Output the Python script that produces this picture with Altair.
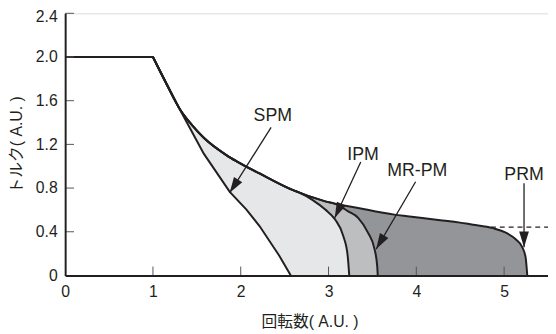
import math
import altair as alt
import pandas as pd

# ---- data ----
prm_x = [1.0, 1.15, 1.316, 1.45, 1.579, 1.84, 1.953, 2.214, 2.589, 2.963, 3.337, 3.749, 3.898, 4.273, 4.646, 4.871, 5.02, 5.132, 5.208, 5.245, 5.264]
prm_y = [2.0, 1.76, 1.51, 1.372, 1.26, 1.10, 1.045, 0.934, 0.783, 0.678, 0.618, 0.557, 0.542, 0.506, 0.465, 0.433, 0.392, 0.331, 0.257, 0.166, 0.0]

mrpm_x = [1.0, 1.15, 1.316, 1.45, 1.579, 1.84, 1.953, 2.214, 2.589, 2.963, 3.075, 3.224, 3.337, 3.449, 3.524, 3.554, 3.561]
mrpm_y = [2.0, 1.76, 1.51, 1.372, 1.26, 1.10, 1.045, 0.934, 0.783, 0.678, 0.655, 0.587, 0.527, 0.392, 0.241, 0.09, 0.0]

ipm_x = [1.0, 1.15, 1.316, 1.45, 1.579, 1.84, 1.953, 2.214, 2.589, 2.66, 2.82, 2.963, 3.075, 3.168, 3.218, 3.236]
ipm_y = [2.0, 1.76, 1.51, 1.372, 1.26, 1.10, 1.045, 0.934, 0.783, 0.76, 0.69, 0.603, 0.512, 0.361, 0.181, 0.0]

spm_x = [0.0, 1.0, 1.316, 1.579, 1.875, 2.065, 2.214, 2.439, 2.570]
spm_y = [2.0, 2.0, 1.506, 1.115, 0.765, 0.603, 0.452, 0.181, 0.0]

labels = ["SPM", "IPM", "MR-PM", "PRM"]
label_x = [2.365, 3.393, 4.010, 5.227]
label_y = [1.461, 1.099, 0.958, 0.919]
arrow_x0 = [2.346, 3.367, 3.992, 5.227]
arrow_y0 = [1.355, 1.039, 0.858, 0.844]
arrow_x1 = [1.874, 3.070, 3.543, 5.227]
arrow_y1 = [0.756, 0.526, 0.241, 0.257]

dash_x = [4.85, 5.5]
dash_y = [0.443, 0.443]

x_ticks = [1, 2, 3, 4, 5]
y_ticks = [0.4, 0.8, 1.2, 1.6, 2.0, 2.4]

# ---- layout ----
W, H = 490, 266
XMAX, YMAX = 5.5, 2.4
INK = "#231f20"
FONT = "Liberation Sans, Arial, Noto Sans CJK JP"

xs = alt.Scale(domain=[0, XMAX], nice=False)
ys = alt.Scale(domain=[0, YMAX], nice=False)

def curve_df(xv, yv):
    return pd.DataFrame({"x": xv, "y": yv})

def area(xv, yv, color, interp):
    return alt.Chart(curve_df(xv, yv)).mark_area(
        color=color, opacity=1, interpolate=interp
    ).encode(
        x=alt.X("x:Q", scale=xs),
        y=alt.Y("y:Q", scale=ys),
    )

def line(xv, yv, interp):
    return alt.Chart(curve_df(xv, yv)).mark_line(
        color=INK, strokeWidth=2, interpolate=interp
    ).encode(
        x=alt.X("x:Q", scale=xs),
        y=alt.Y("y:Q", scale=ys),
    )

sx, sy = W / XMAX, H / YMAX
angles = []
for a, b, c, d in zip(arrow_x0, arrow_y0, arrow_x1, arrow_y1):
    dx = (c - a) * sx
    dy = -(d - b) * sy
    angles.append(math.degrees(math.atan2(-dx, dy)) % 360)

arr = pd.DataFrame({
    "label": labels, "lx": label_x, "ly": label_y,
    "x0": arrow_x0, "y0": arrow_y0, "x1": arrow_x1, "y1": arrow_y1,
    "ang": angles,
})

xaxis = alt.Axis(
    values=[0, 1, 2, 3, 4, 5], format="d", tickSize=0, labelPadding=8, grid=False,
    domainWidth=2, domainColor=INK, labelColor=INK, labelFont=FONT,
    labelFontSize=16, title="回転数( A.U. )", titleFont=FONT, titleFontSize=16,
    titleFontWeight="normal", titleColor=INK, titleX=248, titleY=47,
    titleAlign="center", titleBaseline="middle", zindex=1, labelFlush=False,
)
yaxis = alt.Axis(
    values=[0, 0.4, 0.8, 1.2, 1.6, 2.0, 2.4], tickSize=0, labelPadding=8,
    grid=False, domainWidth=2, domainColor=INK, labelColor=INK,
    labelFont=FONT, labelFontSize=16,
    labelExpr="datum.value == 0 ? '0' : format(datum.value, '.1f')",
    labelOffset={"condition": {"test": "datum.value > 2.3", "value": 3}, "value": 0},
    title="トルク( A.U. )", titleFont=FONT, titleFontSize=16,
    titleFontWeight="normal", titleColor=INK, titleX=-49, titleY=133,
    titleAngle=270, titleAlign="center", titleBaseline="middle", zindex=1,
    labelFlush=False,
)

base_axes = alt.Chart(curve_df(prm_x, prm_y)).mark_point(opacity=0).encode(
    x=alt.X("x:Q", scale=xs, axis=xaxis),
    y=alt.Y("y:Q", scale=ys, axis=yaxis),
)

xtick_rules = alt.Chart(pd.DataFrame({"t": x_ticks})).mark_rule(
    color="#555555", strokeWidth=1
).encode(x=alt.X("t:Q", scale=xs), y=alt.value(H), y2=alt.value(H - 9))

ytick_rules = alt.Chart(pd.DataFrame({"t": y_ticks})).mark_rule(
    color="#555555", strokeWidth=1
).encode(y=alt.Y("t:Q", scale=ys), x=alt.value(0), x2=alt.value(9))

dash = alt.Chart(curve_df(dash_x, dash_y)).mark_line(
    color=INK, strokeWidth=1.2, strokeDash=[5, 4]
).encode(x=alt.X("x:Q", scale=xs), y=alt.Y("y:Q", scale=ys))

arrow_lines = alt.Chart(arr).mark_rule(color=INK, strokeWidth=1.3).encode(
    x=alt.X("x0:Q", scale=xs), y=alt.Y("y0:Q", scale=ys),
    x2="x1:Q", y2="y1:Q",
)

heads = alt.Chart(arr).mark_point(
    shape="M0,0 L-0.31,-1 L0.31,-1 Z", filled=True, color=INK, opacity=1,
    size=1024, strokeWidth=0,
).encode(
    x=alt.X("x1:Q", scale=xs), y=alt.Y("y1:Q", scale=ys),
    angle=alt.Angle("ang:Q", scale=None),
)

texts = alt.Chart(arr).mark_text(
    font=FONT, fontSize=18, color=INK, align="center", baseline="middle"
).encode(
    x=alt.X("lx:Q", scale=xs), y=alt.Y("ly:Q", scale=ys), text="label:N"
)

chart = alt.layer(
    base_axes,
    area(prm_x, prm_y, "#939598", "monotone"),
    area(mrpm_x, mrpm_y, "#bcbec0", "monotone"),
    area(ipm_x, ipm_y, "#e6e7e8", "monotone"),
    area(spm_x, spm_y, "#ffffff", "linear"),
    dash,
    line(prm_x, prm_y, "monotone"),
    line(mrpm_x, mrpm_y, "monotone"),
    line(ipm_x, ipm_y, "monotone"),
    line(spm_x, spm_y, "linear"),
    xtick_rules,
    ytick_rules,
    arrow_lines,
    heads,
    texts,
).properties(
    width=W, height=H,
    autosize=alt.AutoSizeParams(type="none"),
    padding={"left": 58, "top": 3, "right": 0, "bottom": 55},
).configure_view(stroke=None).configure(background="white")

chart.save("out.html", embed_options={"renderer": "svg", "actions": False})
